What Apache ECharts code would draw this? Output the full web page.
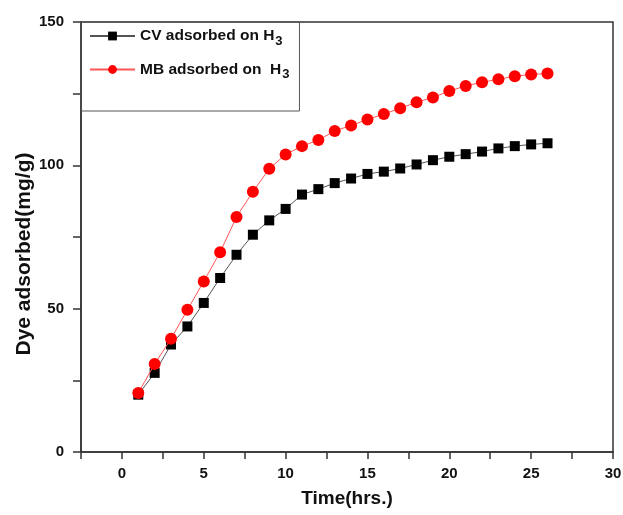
<!DOCTYPE html>
<html lang="en">
<head>
    <meta charset="UTF-8">
    <title>Dye adsorbed vs time</title>
    <style>
        html, body { margin: 0; padding: 0; background: #fff; }
        #main { width: 623px; height: 515px; }
    </style>
</head>
<body>
    <div id="main"></div>
<script src="https://cdn.jsdelivr.net/npm/echarts@6/dist/echarts.min.js"></script>
<script>
    // time points (hrs.)
    var hours = [1, 2, 3, 4, 5, 6, 7, 8, 9, 10, 11, 12, 13, 14, 15, 16, 17, 18, 19, 20, 21, 22, 23, 24, 25, 26];
    // CV adsorbed on H3
    var cvValues = [20, 27.6, 37.5, 43.8, 52, 60.7, 68.8, 75.8, 80.8, 84.8, 89.8, 91.7, 93.8, 95.4, 97, 97.8, 98.9, 100.3, 101.8, 103, 103.9, 104.8, 105.9, 106.7, 107.3, 107.7];
    // MB adsorbed on H3
    var mbValues = [20.6, 30.7, 39.5, 49.6, 59.5, 69.7, 82, 90.8, 98.8, 103.8, 106.7, 108.8, 112, 113.9, 116, 117.9, 119.9, 122, 123.7, 125.9, 127.7, 129, 130, 131.1, 131.7, 132];

    function pairs(xs, ys) {
        var out = [];
        for (var i = 0; i < xs.length; i++) {
            out.push([xs[i], ys[i]]);
        }
        return out;
    }

    var myChart = echarts.init(document.getElementById('main'));
    var font = 'Liberation Sans, Arial, sans-serif';

    var option = {
        animation: false,
        backgroundColor: '#fff',
        grid: {
            left: 81,
            right: 10,
            top: 22,
            bottom: 63,
            outerBoundsMode: 'none',
            containLabel: false,
            show: true,
            borderColor: '#333',
            borderWidth: 1.5
        },
        legend: {
            orient: 'vertical',
            left: 81,
            top: 22,
            padding: [6, 10, 30, 8],
            itemGap: 14,
            itemWidth: 45,
            itemHeight: 11,
            borderColor: '#555',
            borderWidth: 1,
            formatter: function (name) {
                return name + '{sub|3}';
            },
            textStyle: {
                fontFamily: font,
                fontWeight: 'bold',
                fontSize: 15.5,
                color: '#111',
                rich: {
                    sub: {
                        fontFamily: font,
                        fontWeight: 'bold',
                        fontSize: 13,
                        color: '#111',
                        padding: [10, 0, 0, 1]
                    }
                }
            },
            data: ['CV adsorbed on H', 'MB adsorbed on  H']
        },
        xAxis: {
            type: 'value',
            min: -2.5,
            max: 30,
            interval: 2.5,
            name: 'Time(hrs.)',
            nameLocation: 'middle',
            nameGap: 37,
            nameMoveOverlap: false,
            nameTextStyle: { fontFamily: font, fontWeight: 'bold', fontSize: 19, color: '#111' },
            axisLine: { show: true, onZero: false, lineStyle: { color: '#333', width: 1.5 } },
            axisTick: { show: true, inside: false, length: 7, lineStyle: { color: '#333', width: 1.5 } },
            splitLine: { show: false },
            axisLabel: {
                margin: 14,
                fontFamily: font,
                fontWeight: 'bold',
                fontSize: 15,
                color: '#111',
                formatter: function (v) { return v % 5 === 0 ? String(v) : ''; }
            }
        },
        yAxis: {
            type: 'value',
            min: 0,
            max: 150,
            interval: 25,
            name: 'Dye adsorbed(mg/g)',
            nameLocation: 'middle',
            nameGap: 46,
            nameMoveOverlap: false,
            nameTextStyle: {
                fontFamily: font,
                fontWeight: 'bold',
                fontSize: 21,
                color: '#111',
                padding: [0, 34, 0, 0]
            },
            axisLine: { show: true, onZero: false, lineStyle: { color: '#333', width: 1.5 } },
            axisTick: { show: true, inside: false, length: 8, lineStyle: { color: '#333', width: 1.5 } },
            splitLine: { show: false },
            axisLabel: {
                margin: 17,
                fontFamily: font,
                fontWeight: 'bold',
                fontSize: 15,
                color: '#111',
                formatter: function (v) { return v % 50 === 0 ? String(v) : ''; }
            }
        },
        series: [
            {
                name: 'CV adsorbed on H',
                type: 'line',
                data: pairs(hours, cvValues),
                symbol: 'rect',
                symbolSize: 10,
                itemStyle: { color: '#000' },
                lineStyle: { color: '#555', width: 1 },
                z: 2
            },
            {
                name: 'MB adsorbed on  H',
                type: 'line',
                data: pairs(hours, mbValues),
                symbol: 'circle',
                symbolSize: 12,
                itemStyle: { color: '#ff0000' },
                lineStyle: { color: '#ff5555', width: 1 },
                z: 3
            }
        ]
    };

    myChart.setOption(option);
</script>
</body>
</html>
